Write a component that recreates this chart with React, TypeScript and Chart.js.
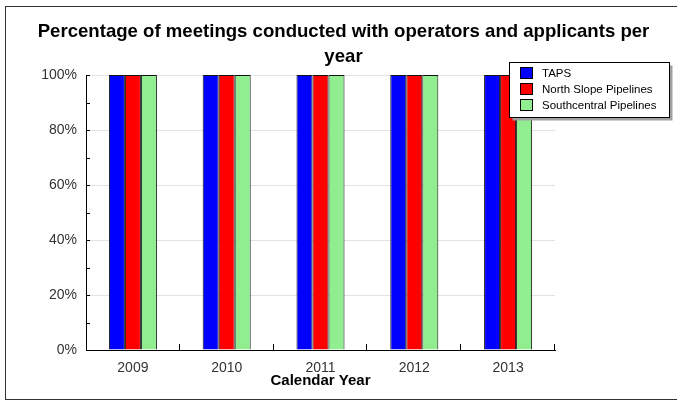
import React, { useEffect, useRef } from "react";
import { Chart, registerables } from "chart.js";

Chart.register(...registerables);

const categories = ["2009", "2010", "2011", "2012", "2013"];
const tapsValues = [100, 100, 100, 100, 100];
const northSlopeValues = [100, 100, 100, 100, 100];
const southcentralValues = [100, 100, 100, 100, 100];
const seriesLabels = ["TAPS", "North Slope Pipelines", "Southcentral Pipelines"];
const titleLines = ["Percentage of meetings conducted with operators and applicants per", "year"];
const xAxisTitle = "Calendar Year";

const FONT = 'Arial, "Liberation Sans", sans-serif';

const framePlugin = {
  id: "frame",
  beforeDraw(chart: any) {
    const ctx = chart.ctx;
    ctx.save();
    ctx.fillStyle = "#fff";
    ctx.fillRect(0, 0, chart.width, chart.height);
    ctx.restore();
  },
  afterDraw(chart: any) {
    const ctx = chart.ctx;
    const { chartArea } = chart;
    const y = chart.scales.y;
    ctx.save();
    // outer frame
    ctx.strokeStyle = "#333";
    ctx.lineWidth = 1;
    ctx.strokeRect(5.5, 6.5, 720, 393);
    // inward ticks on y axis
    ctx.strokeStyle = "#000";
    ctx.beginPath();
    for (let v = 0; v <= 100; v += 10) {
      const py = Math.round(y.getPixelForValue(v)) + 0.5;
      ctx.moveTo(chartArea.left, py);
      ctx.lineTo(chartArea.left + 4, py);
    }
    // inward ticks on x axis at category boundaries
    const n = categories.length;
    const w = (chartArea.right - chartArea.left) / n;
    for (let i = 1; i <= n; i++) {
      const px = Math.round(chartArea.left + i * w) - 0.5;
      ctx.moveTo(px, chartArea.bottom);
      ctx.lineTo(px, chartArea.bottom - 6);
    }
    ctx.stroke();

    // legend
    const lx = 509.5, ly = 62.5, lw = 160, lh = 55;
    ctx.fillStyle = "#a0a0a0";
    ctx.fillRect(lx + 3, ly + 3, lw, lh);
    ctx.fillStyle = "#fff";
    ctx.fillRect(lx, ly, lw, lh);
    ctx.strokeStyle = "#000";
    ctx.strokeRect(lx, ly, lw, lh);
    ctx.font = "11.5px " + FONT;
    ctx.textBaseline = "middle";
    ctx.textAlign = "left";
    chart.data.datasets.forEach((ds: any, i: number) => {
      const sy = 67.5 + i * 16;
      ctx.fillStyle = ds.backgroundColor;
      ctx.fillRect(520.5, sy, 12, 11);
      ctx.strokeStyle = "#000";
      ctx.strokeRect(520.5, sy, 12, 11);
      ctx.fillStyle = "#000";
      ctx.fillText(ds.label, 542, sy + 6);
    });
    ctx.restore();
  },
};

export default function App() {
  const ref = useRef<HTMLCanvasElement>(null);
  useEffect(() => {
    if (!ref.current) return;
    const chart = new Chart(ref.current, {
      type: "bar",
      data: {
        labels: categories,
        datasets: [
          { label: seriesLabels[0], data: tapsValues, backgroundColor: "#0000ff", borderColor: "#111", borderWidth: 1 },
          { label: seriesLabels[1], data: northSlopeValues, backgroundColor: "#ff0000", borderColor: "#111", borderWidth: 1 },
          { label: seriesLabels[2], data: southcentralValues, backgroundColor: "#90ee90", borderColor: "#111", borderWidth: 1 },
        ],
      },
      options: {
        responsive: false,
        animation: false,
        layout: { padding: { left: 10, right: 0, top: 0, bottom: 0 } },
        datasets: { bar: { categoryPercentage: 0.512, barPercentage: 1.0 } },
        plugins: {
          legend: { display: false },
          tooltip: { enabled: false },
          title: {
            display: true,
            text: titleLines,
            color: "#000",
            font: { family: FONT, size: 18.6, weight: "bold", lineHeight: 25 / 18.6 },
            padding: { top: 19, bottom: 6 },
          },
        },
        scales: {
          x: {
            afterFit(scale: any) { scale.height = 51; },
            grid: { display: true, drawOnChartArea: false, drawTicks: false, offset: true },
            border: { color: "#000", width: 1 },
            ticks: { color: "#333", font: { family: FONT, size: 14 }, padding: 10 },
            title: {
              display: true,
              text: xAxisTitle,
              color: "#000",
              font: { family: FONT, size: 15, weight: "bold", lineHeight: 1.2 },
              padding: { top: 0, bottom: 11 },
            },
          },
          y: {
            min: 0,
            max: 100,
            afterFit(scale: any) { scale.width = 76; },
            grid: {
              drawTicks: false,
              color: (c: any) => (c.tick && c.tick.value % 20 === 0 ? "#e2e2e2" : "rgba(0,0,0,0)"),
            },
            border: { color: "#000", width: 1 },
            ticks: {
              stepSize: 10,
              color: "#333",
              font: { family: FONT, size: 14 },
              padding: 9,
              callback: (v: any) => (Number(v) % 20 === 0 ? v + "%" : ""),
            },
          },
          yRight: {
            type: "linear",
            position: "right",
            display: true,
            afterFit(scale: any) { scale.width = 122; },
            grid: { display: false, drawTicks: false },
            border: { display: false },
            ticks: { display: false },
          },
        },
      },
      plugins: [framePlugin],
    } as any);
    return () => chart.destroy();
  }, []);
  return (
    <div style={{ position: "fixed", left: 0, top: 0, width: 677, height: 401 }}>
      <canvas ref={ref} width={677} height={401} />
    </div>
  );
}
